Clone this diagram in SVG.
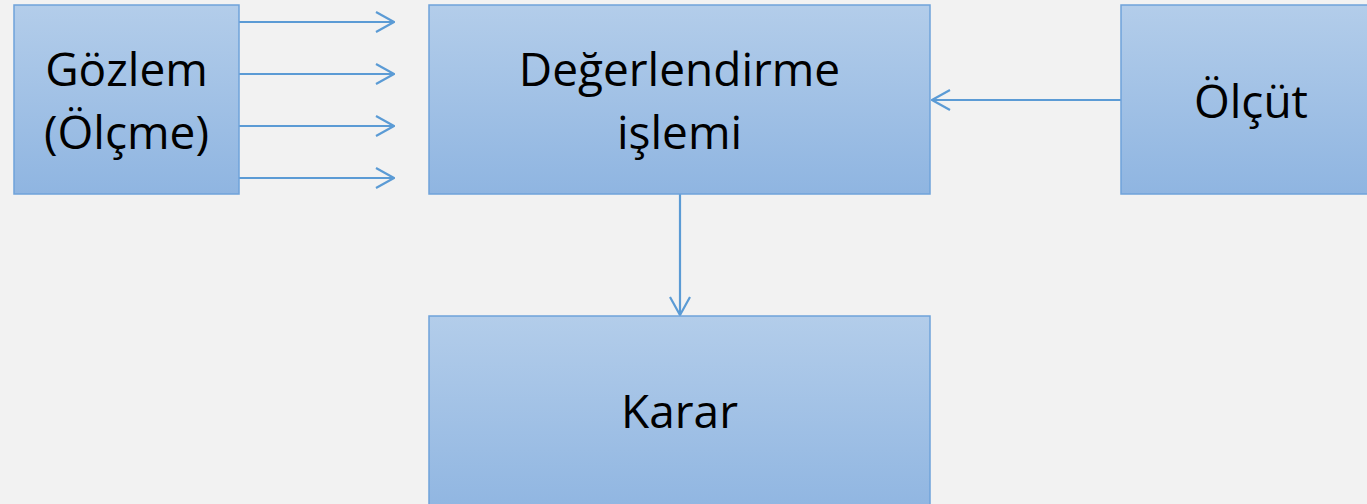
<svg xmlns="http://www.w3.org/2000/svg" width="1367" height="504" viewBox="0 0 1367 504">
<defs>
<linearGradient id="g" x1="0" y1="0" x2="0" y2="1">
<stop offset="0" stop-color="#b3cdea"/>
<stop offset="1" stop-color="#8fb5e1"/>
</linearGradient>
<marker id="ah" viewBox="0 0 20 24" refX="19" refY="12" markerWidth="20" markerHeight="24" markerUnits="userSpaceOnUse" orient="auto">
<path d="M1,2 L19,12 L1,22" fill="none" stroke="#5b9bd5" stroke-width="2.2"/>
</marker>
<style>
.box{fill:url(#g);stroke:#6fa3da;stroke-width:1.5}
.t{font-family:"Open Sans","Noto Sans",sans-serif;font-size:46px;fill:#000;text-anchor:middle}
.c{stroke:#5b9bd5;stroke-width:2.2;fill:none;marker-end:url(#ah)}
</style>
</defs>
<rect width="1367" height="504" fill="#f2f2f2"/>
<g id="connectors">
<line class="c" x1="239" y1="22" x2="394" y2="22"/>
<line class="c" x1="239" y1="74" x2="394" y2="74"/>
<line class="c" x1="239" y1="126" x2="394" y2="126"/>
<line class="c" x1="239" y1="178" x2="394" y2="178"/>
<line class="c" x1="1121" y1="100" x2="932" y2="100"/>
<line class="c" x1="680" y1="194" x2="680" y2="315"/>
</g>
<g id="gozlem">
<rect class="box" x="14" y="5" width="225" height="189"/>
<text class="t" x="126.5" y="86">Gözlem</text>
<text class="t" x="126.5" y="149">(Ölçme)</text>
</g>
<g id="degerlendirme">
<rect class="box" x="429" y="5" width="501" height="189"/>
<text class="t" x="679.5" y="86">Değerlendirme</text>
<text class="t" x="679.5" y="149">işlemi</text>
</g>
<g id="olcut">
<rect class="box" x="1121" y="5" width="260" height="189"/>
<text class="t" x="1251" y="118">Ölçüt</text>
</g>
<g id="karar">
<rect class="box" x="429" y="316" width="501" height="200"/>
<text class="t" x="679.5" y="428">Karar</text>
</g>
</svg>
